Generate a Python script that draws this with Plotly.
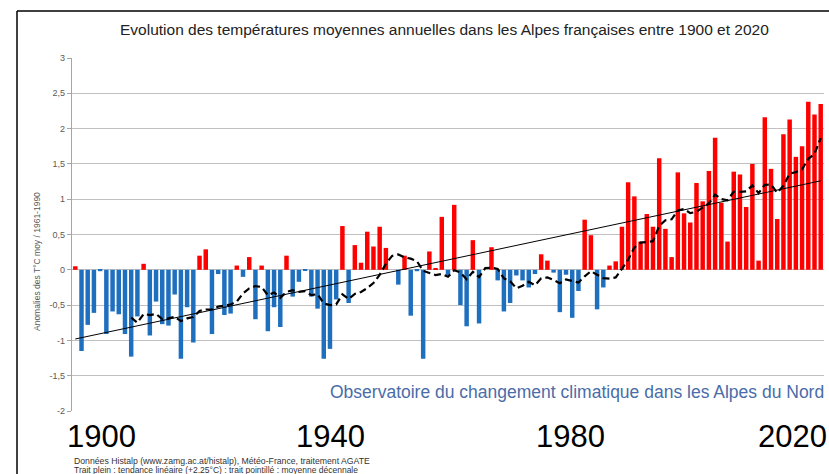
import plotly.graph_objects as go
import pandas as pd

# ---- data ----
years = list(range(1900, 2021))
anomalies = [
    0.05, -1.15, -0.78, -0.61, -0.02, -0.91, -0.59, -0.63, -0.91, -1.23,   # 1900-1909
    -0.66, 0.085, -0.93, -0.45, -0.77, -0.79, -0.35, -1.26, -0.53, -1.03,  # 1910-1919
    0.20, 0.29, -0.91, -0.06, -0.64, -0.62, 0.06, -0.10, 0.18, -0.70,      # 1920-1929
    0.06, -0.87, -0.53, -0.81, 0.20, -0.38, -0.17, -0.01, -0.38, -0.55,    # 1930-1939
    -1.26, -1.12, -0.42, 0.62, -0.47, 0.35, 0.10, 0.54, 0.33, 0.61,        # 1940-1949
    0.31, 0.00, -0.21, 0.20, -0.65, -0.02, -1.26, 0.26, 0.02, 0.75,        # 1950-1959
    -0.08, 0.92, -0.50, -0.80, 0.42, -0.76, 0.00, 0.32, -0.15, -0.59,      # 1960-1969
    -0.47, -0.08, -0.15, -0.25, -0.06, 0.22, 0.13, -0.04, -0.60, -0.07,    # 1970-1979
    -0.68, -0.30, 0.71, 0.49, -0.56, -0.25, 0.06, 0.12, 0.61, 1.24,        # 1980-1989
    1.04, 0.40, 0.79, 0.61, 1.58, 0.58, 0.18, 1.38, 0.80, 0.67,            # 1990-1999
    1.23, 0.97, 1.40, 1.87, 0.95, 0.40, 1.39, 1.35, 0.89, 1.50,            # 2000-2009
    0.13, 2.16, 1.43, 0.72, 1.92, 2.13, 1.60, 1.75, 2.38, 2.20,            # 2010-2019
    2.35,                                                                  # 2020
]
trend_years = [1900, 2020]
trend_values = [-0.98, 1.26]
decade_window = 10  # "moyenne décennale" (trailing 10-year mean)
decadal = pd.Series(anomalies).rolling(decade_window).mean().tolist()

y_tick_vals = [-2, -1.5, -1, -0.5, 0, 0.5, 1, 1.5, 2, 2.5, 3]
y_tick_labels = ["-2", "-1,5", "-1", "-0,5", "0", "0,5", "1", "1,5", "2", "2,5", "3"]
x_labels = ["1900", "1940", "1980", "2020"]

title_text = "Evolution des températures moyennes annuelles dans les Alpes françaises entre 1900 et 2020"
y_title = "Anomalies des T°C moy / 1961-1990"
watermark = "Observatoire du changement climatique dans les Alpes du Nord"
caption1 = "Données Histalp (www.zamg.ac.at/histalp), Météo-France, traitement AGATE"
caption2 = "Trait plein : tendance linéaire (+2.25°C) : trait pointillé : moyenne décennale"

RED = "#FF0000"
BLUE = "#1F6FBF"
colors = [RED if v >= 0 else BLUE for v in anomalies]

FONT = "Liberation Sans, Arial, sans-serif"

fig = go.Figure()
fig.add_trace(go.Bar(x=years, y=anomalies, marker=dict(color=colors, line=dict(width=0)),
                     width=0.72, hoverinfo="x+y"))
fig.add_trace(go.Scatter(x=trend_years, y=trend_values, mode="lines",
                         line=dict(color="black", width=1)))
fig.add_trace(go.Scatter(x=years, y=decadal, mode="lines",
                         line=dict(color="black", width=2.2, dash="7px,4px")))

W, H = 829, 474
L, R, T, B = 72, 5, 58, 63
pw, ph = W - L - R, H - T - B

def px(xp):
    return (xp - L) / pw

def py(yp):
    return (H - B - yp) / ph

annotations = [
    dict(text=title_text, x=px(444), y=py(30), xref="paper", yref="paper",
         xanchor="center", yanchor="middle", showarrow=False,
         font=dict(family=FONT, size=15.5, color="#222222")),
    dict(text=y_title, x=px(37), y=py(262), xref="paper", yref="paper",
         xanchor="center", yanchor="middle", showarrow=False, textangle=-90,
         font=dict(family=FONT, size=8.5, color="#595959")),
    dict(text=watermark, x=px(826), y=py(392), xref="paper", yref="paper",
         xanchor="right", yanchor="middle", showarrow=False,
         font=dict(family=FONT, size=17.5, color="#4A6CA8")),
    dict(text=caption1, x=0, y=py(461), xref="paper", yref="paper",
         xanchor="left", yanchor="middle", showarrow=False,
         font=dict(family=FONT, size=8.7, color="#333333")),
    dict(text=caption2, x=0, y=py(469.5), xref="paper", yref="paper",
         xanchor="left", yanchor="middle", showarrow=False,
         font=dict(family=FONT, size=8.5, color="#333333")),
]
label_centers = [101, 330, 570, 792]
for lab, cx in zip(x_labels, label_centers):
    annotations.append(dict(text=lab, x=px(cx), y=py(436), xref="paper", yref="paper",
                            xanchor="center", yanchor="middle", showarrow=False,
                            font=dict(family=FONT, size=31, color="black")))

shapes = [
    dict(type="line", xref="paper", yref="paper", x0=px(17), x1=px(17), y0=py(474), y1=py(11),
         line=dict(color="black", width=1.5)),
    dict(type="line", xref="paper", yref="paper", x0=px(17), x1=px(829), y0=py(11), y1=py(11),
         line=dict(color="black", width=1.5)),
]

fig.update_layout(
    width=W, height=H,
    margin=dict(l=L, r=R, t=T, b=B, pad=0),
    plot_bgcolor="white", paper_bgcolor="white",
    showlegend=False, bargap=0.28,
    annotations=annotations, shapes=shapes,
    xaxis=dict(range=[1899.47, 2020.53], showticklabels=False, showgrid=False,
               zeroline=False, showline=False, ticks=""),
    yaxis=dict(range=[-2, 3], tickvals=y_tick_vals, ticktext=y_tick_labels,
               showgrid=True, gridcolor="#c0c0c0", gridwidth=1.3, zeroline=False,
               showline=True, linecolor="#a6a6a6", linewidth=1.3,
               ticks="outside", ticklen=4, tickcolor="#a6a6a6",
               tickfont=dict(family=FONT, size=9, color="#595959")),
)

fig.write_html(
    "out.html",
    config={"displayModeBar": False},
    post_script="document.body.style.margin='0';document.body.style.overflow='hidden';",
)
